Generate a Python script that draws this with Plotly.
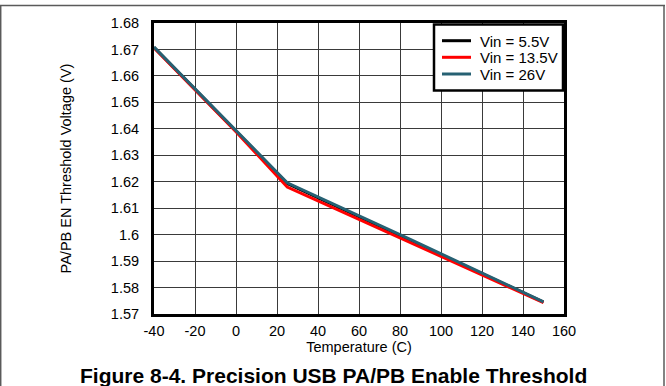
import plotly.graph_objects as go

# Temperature sweep (C)
temperature = [-40, 0, 25, 85, 125, 150]

# PA/PB EN threshold voltage (V) per supply voltage
v_5p5 = [1.6708, 1.6393, 1.6193, 1.5978, 1.5835, 1.5745]
v_13p5 = [1.6706, 1.6389, 1.6180, 1.5970, 1.5830, 1.5743]
v_26 = [1.6709, 1.6394, 1.6196, 1.5982, 1.5838, 1.5746]

series_names = ["Vin = 5.5V", "Vin = 13.5V", "Vin = 26V"]
series_colors = ["#000000", "#ff0000", "#266173"]

x_ticks = [-40, -20, 0, 20, 40, 60, 80, 100, 120, 140, 160]
x_tick_text = ["-40", "-20", "0", "20", "40", "60", "80", "100", "120", "140", "160"]
y_ticks = [1.57, 1.58, 1.59, 1.60, 1.61, 1.62, 1.63, 1.64, 1.65, 1.66, 1.67, 1.68]
y_tick_text = ["1.57", "1.58", "1.59", "1.6", "1.61", "1.62", "1.63", "1.64",
               "1.65", "1.66", "1.67", "1.68"]

FONT = "Liberation Sans, Arial, Helvetica, sans-serif"

fig = go.Figure()
for name, vals, color in zip(series_names, [v_5p5, v_13p5, v_26], series_colors):
    fig.add_trace(go.Scatter(
        x=temperature, y=vals, mode="lines", name=name,
        line=dict(color=color, width=3), showlegend=False,
    ))

# plot area in pixels: left 154, right 564, top 23, bottom 314
L, R, T, B = 154, 564, 23, 314
W, H = 666, 386


def px(xp):
    return (xp - L) / (R - L)


def py(yp):
    return (B - yp) / (B - T)


frame = "#5a5a5a"
shapes = [
    # outer figure frame
    dict(type="line", xref="paper", yref="paper", x0=px(0), x1=px(665),
         y0=py(5.5), y1=py(5.5), line=dict(color=frame, width=1.5)),
    dict(type="line", xref="paper", yref="paper", x0=px(0.7), x1=px(0.7),
         y0=py(5), y1=py(390), line=dict(color=frame, width=1.5)),
    dict(type="line", xref="paper", yref="paper", x0=px(664), x1=px(664),
         y0=py(5), y1=py(390), line=dict(color=frame, width=1.5)),
    # legend box
    dict(type="rect", xref="paper", yref="paper", layer="above",
         x0=px(434), x1=px(563), y0=py(24.5), y1=py(90.5),
         fillcolor="white", line=dict(color="black", width=2.5)),
]

annotations = []
legend_rows = [40.7, 57.3, 74.0]
for name, color, row in zip(series_names, series_colors, legend_rows):
    shapes.append(dict(type="line", xref="paper", yref="paper", layer="above",
                       x0=px(442), x1=px(471), y0=py(row), y1=py(row),
                       line=dict(color=color, width=3)))
    annotations.append(dict(text=name, xref="paper", yref="paper",
                            x=px(478), y=py(row + 0.5), xanchor="left", yanchor="middle",
                            showarrow=False,
                            font=dict(family=FONT, size=15, color="black")))

annotations.append(dict(
    text="<b>Figure 8-4. Precision USB PA/PB Enable Threshold</b>",
    xref="paper", yref="paper", x=px(333), y=py(375),
    xanchor="center", yanchor="middle", showarrow=False,
    font=dict(family=FONT, size=21, color="black"),
))

fig.update_layout(
    width=W, height=H,
    margin=dict(l=L, r=W - R, t=T, b=H - B, pad=0),
    paper_bgcolor="white", plot_bgcolor="white",
    font=dict(family=FONT, size=14.5, color="black"),
    showlegend=False,
    xaxis=dict(
        range=[-40, 160], tickvals=x_ticks, ticktext=x_tick_text, ticks="",
        showgrid=True, gridcolor="#3a3a3a", gridwidth=1,
        showline=True, linecolor="black", linewidth=3, mirror=True,
        zeroline=False, ticklabelstandoff=2,
        tickfont=dict(family=FONT, size=14.5),
        title=dict(text="Temperature (C)", font=dict(family=FONT, size=14.5), standoff=0),
    ),
    yaxis=dict(
        range=[1.57, 1.68], tickvals=y_ticks, ticktext=y_tick_text, ticks="",
        showgrid=True, gridcolor="#3a3a3a", gridwidth=1,
        showline=True, linecolor="black", linewidth=3, mirror=True,
        zeroline=False, ticklabelstandoff=9,
        tickfont=dict(family=FONT, size=14.5),
        title=dict(text="PA/PB EN Threshold Voltage (V)",
                   font=dict(family=FONT, size=14.5), standoff=36),
    ),
    shapes=shapes,
    annotations=annotations,
)

fig.write_html("out.html")
